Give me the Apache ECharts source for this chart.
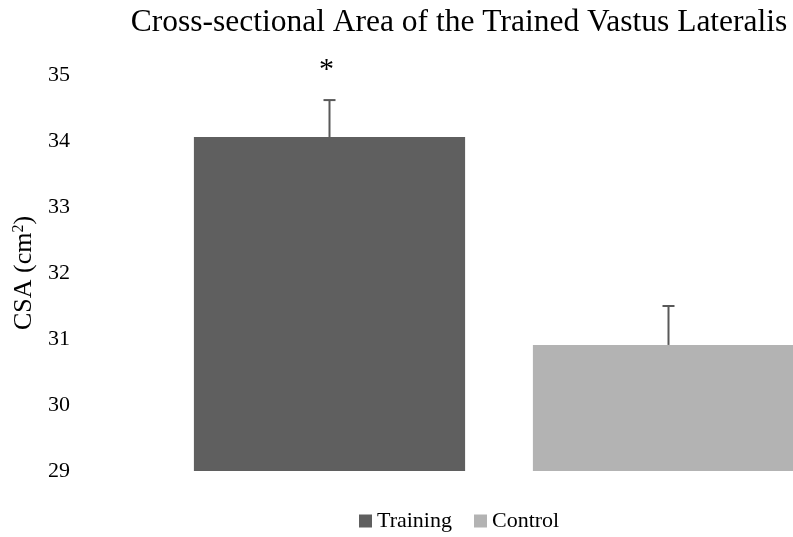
<!DOCTYPE html>
<html>
<head>
<meta charset="utf-8">
<script src="https://cdn.jsdelivr.net/npm/echarts@6/dist/echarts.min.js"></script>
<style>
  html, body { margin: 0; padding: 0; background: #fff; }
  #chart { width: 793px; height: 537px; }
</style>
</head>
<body>
<div id="chart"></div>
<script>
// data
const groups = ['Training', 'Control'];
const csaMean = [34.06, 30.91];
const csaUpper = [34.62, 31.5];
const marks = ['*', ''];
const yTicks = [29, 30, 31, 32, 33, 34, 35];

const serif = 'Liberation Serif';
const colors = ['#5f5f5f', '#b3b3b3'];

const chart = echarts.init(document.getElementById('chart'));

// one bar series per group so the legend shows both
const barSeries = groups.map((g, i) => ({
  name: g,
  type: 'bar',
  barWidth: '80%',
  barGap: '-100%',
  itemStyle: { color: colors[i] },
  data: groups.map((_, j) => (j === i ? csaMean[j] : '-')),
  silent: true
}));

const errorSeries = {
  type: 'custom',
  silent: true,
  data: groups.map((_, i) => [i, csaMean[i], csaUpper[i]]),
  renderItem: function (params, api) {
    const i = api.value(0);
    const base = api.coord([i, api.value(1)]);
    const top = api.coord([i, api.value(2)]);
    const children = [
      { type: 'line', shape: { x1: base[0], y1: base[1], x2: top[0], y2: top[1] },
        style: { stroke: '#595959', lineWidth: 2 } },
      { type: 'line', shape: { x1: top[0] - 6, y1: top[1], x2: top[0] + 6, y2: top[1] },
        style: { stroke: '#595959', lineWidth: 2 } }
    ];
    if (marks[i]) {
      children.push({
        type: 'text',
        style: {
          x: top[0] - 3, y: top[1] - 30, text: marks[i],
          fill: '#000', font: '30px ' + serif,
          align: 'center', verticalAlign: 'middle'
        }
      });
    }
    return { type: 'group', children: children };
  },
  z: 5
};

const option = {
  backgroundColor: '#fff',
  animation: false,
  textStyle: { fontFamily: serif },
  title: {
    text: 'Cross-sectional Area of the Trained Vastus Lateralis',
    left: 454,
    textAlign: 'center',
    top: 2,
    textStyle: { fontFamily: serif, fontSize: 31.5, fontWeight: 'normal', color: '#000' }
  },
  legend: {
    data: groups,
    top: 505,
    left: 354,
    icon: 'rect',
    itemWidth: 13,
    itemHeight: 13,
    itemGap: 22,
    textStyle: { fontFamily: serif, fontSize: 22, color: '#000' }
  },
  grid: { left: 160, top: 75, width: 678, height: 396, outerBoundsMode: 'none' },
  xAxis: {
    type: 'category',
    data: groups,
    axisLine: { show: false },
    axisTick: { show: false },
    axisLabel: { show: false }
  },
  yAxis: {
    type: 'value',
    min: yTicks[0],
    max: yTicks[yTicks.length - 1],
    interval: 1,
    name: 'CSA (cm{sup|2})',
    nameLocation: 'middle',
    nameGap: 123,
    nameTextStyle: {
      fontFamily: serif, fontSize: 26, color: '#000',
      rich: { sup: { fontFamily: serif, fontSize: 16, color: '#000', verticalAlign: 'top', padding: [0, 0, 8, 0] } }
    },
    axisLine: { show: false },
    axisTick: { show: false },
    splitLine: { show: false },
    axisLabel: { fontFamily: serif, fontSize: 22, color: '#000', margin: 90 }
  },
  series: barSeries.concat([errorSeries])
};

chart.setOption(option);
</script>
</body>
</html>
